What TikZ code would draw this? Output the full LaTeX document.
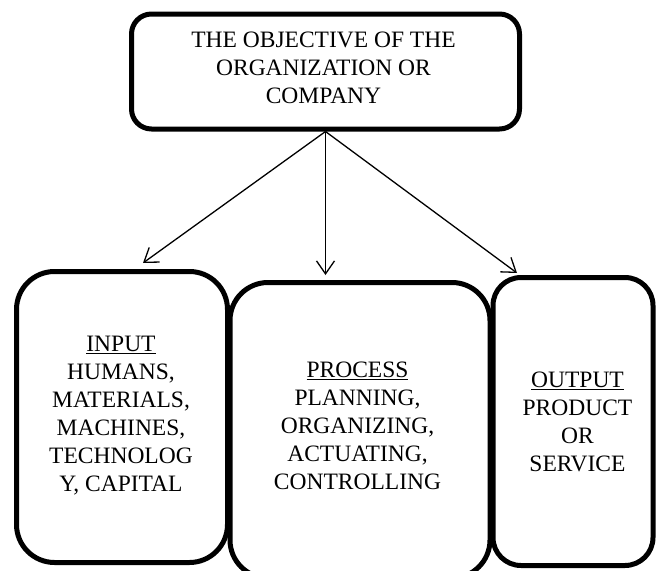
\documentclass[tikz,border=0pt]{standalone}
\usepackage{fontspec}
\setmainfont{Liberation Serif}
\usetikzlibrary{arrows.meta}

\tikzset{
  boxnode/.style={draw, line width=5pt, inner sep=0pt},
  boxtext/.style={align=center, inner sep=0pt, anchor=north, font=\fontsize{23.5}{28}\selectfont},
  arrowline/.style={line width=1.3pt, -{Straight Barb[length=13pt,width=18pt]}}
}

\begin{document}
\begin{tikzpicture}[x=1pt,y=-1pt]
                \clip (0,0) rectangle (657,571);
                \node[boxnode, rounded corners=20pt, minimum width=388pt, minimum height=115pt] (objective) at (325.5,71.5) {};
                \node[boxnode, rounded corners=38pt, minimum width=211pt, minimum height=291pt] (input) at (122,417) {};
                \node[boxnode, rounded corners=38pt, minimum width=260pt, minimum height=295.5pt] (process) at (360,430.25) {};
                \node[boxnode, rounded corners=28pt, minimum width=160pt, minimum height=288pt] (output) at (573,421.5) {};
                \node[boxtext] (objectivetext) at (323.5,32) {THE OBJECTIVE OF THE\\ORGANIZATION OR\\COMPANY};
                \node[boxtext] (inputtext) at (121,336) {\underline{INPUT}\\HUMANS,\\MATERIALS,\\MACHINES,\\TECHNOLOG\\Y, CAPITAL};
                \node[boxtext] (processtext) at (357.5,362) {\underline{PROCESS}\\PLANNING,\\ORGANIZING,\\ACTUATING,\\CONTROLLING};
                \node[boxtext] (outputtext) at (577.5,371.5) {\underline{OUTPUT}\\PRODUCT\\OR\\SERVICE};
                \coordinate (inputtip) at (143,263);
                \coordinate (processtip) at (325.5,275);
                \coordinate (outputtip) at (517,273);
                \draw[arrowline] (objective.south) -- (inputtip);
                \draw[arrowline] (objective.south) -- (processtip);
                \draw[arrowline] (objective.south) -- (outputtip);
            \end{tikzpicture}
\end{document}
